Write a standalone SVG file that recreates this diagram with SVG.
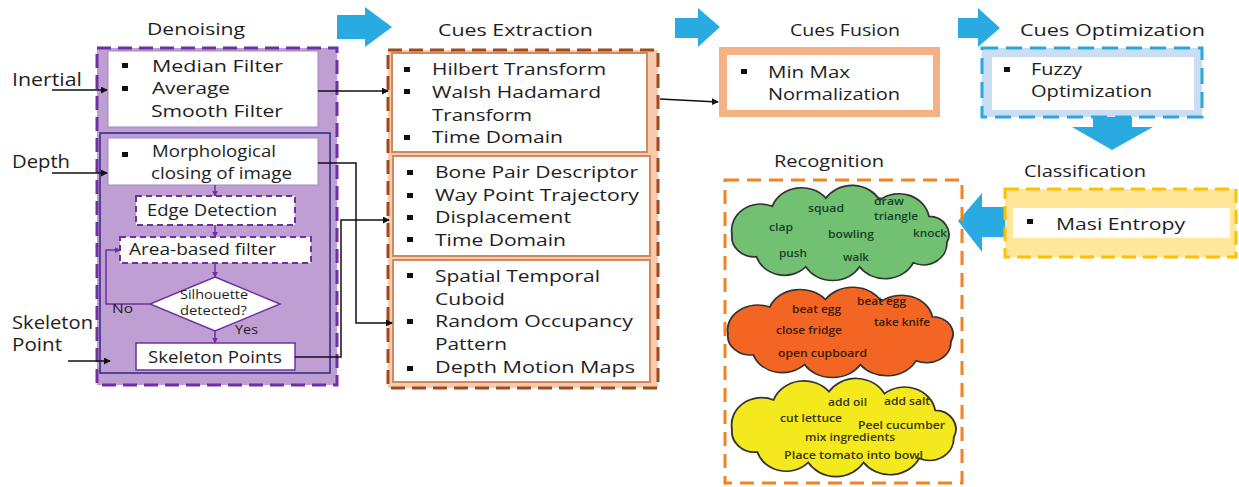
<svg xmlns="http://www.w3.org/2000/svg" xmlns:xlink="http://www.w3.org/1999/xlink" width="1239" height="487" viewBox="0 0 1239 487">
<style>
text{font-family:"Open Sans","DejaVu Sans",sans-serif;fill:#1e1e1e}
.t{font-size:17px}
.m{font-size:16px}
.sm{font-size:12px}
.c{font-size:11px;font-weight:600}
.cg{fill:#17402a}
.co{fill:#3a1c05}
.cy{fill:#3a3505}
.blk{stroke:#111;stroke-width:1.5;fill:none}
.pur{stroke:#7030a0;stroke-width:1.5;fill:none}
.wb{fill:#fff}
.blue{fill:#29abe2}
.bul{fill:#111}
.cloud{stroke:#333;stroke-width:1.6;vector-effect:non-scaling-stroke}
</style>
<defs>
<marker id="ab" viewBox="0 0 8 8" refX="7" refY="4" markerWidth="7" markerHeight="7" markerUnits="userSpaceOnUse" orient="auto"><path d="M0,0 L8,4 L0,8 z" fill="#111"/></marker>
<marker id="ap" viewBox="0 0 8 8" refX="7" refY="4" markerWidth="6" markerHeight="6" markerUnits="userSpaceOnUse" orient="auto"><path d="M0,0 L8,4 L0,8 z" fill="#7030a0"/></marker>
<rect id="b" width="6" height="5"/>
<path id="cl" d="M14,50 A26,26 0 0 1 50,22 A28,28 0 0 1 98,14 A28,28 0 0 1 146,16 A27,27 0 0 1 190,32 A18,18 0 0 1 206,58 A21,21 0 0 1 176,78 A28,28 0 0 1 128,82 A28,28 0 0 1 80,82 A26,26 0 0 1 36,72 A20,20 0 0 1 14,50 Z"/>
</defs>

<!-- blue block arrows -->
<g id="bigArrows">
<polygon class="blue" points="337,15 365,15 365,7 392,27 365,47 365,39 337,39"/>
<polygon class="blue" points="675,18 698,18 698,8 720,27 698,47 698,38 675,38"/>
<polygon class="blue" points="958,18 978,18 978,8 1000,28 978,47 978,38 958,38"/>
<polygon class="blue" points="1093,117 1132,117 1132,127 1153,127 1112,150 1072,127 1093,127"/>
<polygon class="blue" points="1005,207 982,207 982,193 958,221 982,252 982,237 1005,237"/>
</g>

<!-- input labels -->
<g id="inputs">
<text class="t" x="12" y="86" textLength="70" lengthAdjust="spacingAndGlyphs" style="font-size:18px">Inertial</text>
<text class="t" x="12" y="168" textLength="58" lengthAdjust="spacingAndGlyphs" style="font-size:18px">Depth</text>
<text class="t" x="12" y="329" textLength="81" lengthAdjust="spacingAndGlyphs" style="font-size:18px">Skeleton</text>
<text class="t" x="12" y="351" textLength="50" lengthAdjust="spacingAndGlyphs" style="font-size:18px">Point</text>
</g>

<!-- Denoising -->
<g id="denoising">
<text class="t" x="147" y="35" textLength="98" lengthAdjust="spacingAndGlyphs">Denoising</text>
<rect x="97" y="48" width="240" height="337" fill="#bf9fd3" stroke="#7030a0" stroke-width="3" stroke-dasharray="14,7"/>
<rect x="108" y="51" width="210" height="76" class="wb" stroke="#a585c2" stroke-width="1"/>
<use href="#b" xlink:href="#b" class="bul" x="122" y="63"/>
<use href="#b" xlink:href="#b" class="bul" x="122" y="86"/>
<text class="t" x="152" y="72" textLength="131" lengthAdjust="spacingAndGlyphs">Median Filter</text>
<text class="t" x="152" y="94" textLength="78" lengthAdjust="spacingAndGlyphs">Average</text>
<text class="t" x="151" y="117" textLength="132" lengthAdjust="spacingAndGlyphs">Smooth Filter</text>
<rect x="100" y="133" width="230" height="240" fill="none" stroke="#2b2b80" stroke-width="1.5"/>
</g>
<g id="morph">
<rect x="108" y="138" width="210" height="47" class="wb" stroke="#a585c2" stroke-width="1"/>
<use href="#b" xlink:href="#b" class="bul" x="122" y="152"/>
<text class="m" x="152" y="157" textLength="124" lengthAdjust="spacingAndGlyphs">Morphological</text>
<text class="m" x="151" y="179" textLength="141" lengthAdjust="spacingAndGlyphs">closing of image</text>
</g>
<g id="edge">
<rect x="136" y="196" width="159" height="29" class="wb" stroke="#7030a0" stroke-width="2" stroke-dasharray="6,4"/>
<text class="m" x="147" y="216" textLength="130" lengthAdjust="spacingAndGlyphs">Edge Detection</text>
</g>
<g id="area">
<rect x="120" y="237" width="191" height="26" class="wb" stroke="#7030a0" stroke-width="2" stroke-dasharray="6,4"/>
<text class="m" x="129" y="255" textLength="147" lengthAdjust="spacingAndGlyphs">Area-based filter</text>
</g>
<g id="silhouette">
<polygon points="215,277 280,304 215,331 150,304" class="wb" stroke="#7030a0" stroke-width="1.5"/>
<text class="sm" x="180" y="299" textLength="68" lengthAdjust="spacingAndGlyphs">Silhouette</text>
<text class="sm" x="180" y="315" textLength="67" lengthAdjust="spacingAndGlyphs">detected?</text>
</g>
<g id="skeleton">
<rect x="136" y="343" width="159" height="27" class="wb" stroke="#7030a0" stroke-width="1.5"/>
<text class="m" x="148" y="363" textLength="134" lengthAdjust="spacingAndGlyphs">Skeleton Points</text>
</g>

<!-- Cues Extraction -->
<g id="cuesExtraction">
<text class="t" x="438" y="36" textLength="155" lengthAdjust="spacingAndGlyphs">Cues Extraction</text>
<rect x="388" y="50" width="270" height="338" fill="#f8cbad" stroke="#9e4a1e" stroke-width="3" stroke-dasharray="14,7"/>
</g>
<g id="inertialCues">
<rect x="392" y="53" width="255" height="99" class="wb" stroke="#d08860" stroke-width="2"/>
<use href="#b" xlink:href="#b" class="bul" x="404" y="67"/>
<use href="#b" xlink:href="#b" class="bul" x="404" y="89"/>
<use href="#b" xlink:href="#b" class="bul" x="404" y="135"/>
<text class="t" x="432" y="75" textLength="174" lengthAdjust="spacingAndGlyphs">Hilbert Transform</text>
<text class="t" x="432" y="98" textLength="169" lengthAdjust="spacingAndGlyphs">Walsh Hadamard</text>
<text class="t" x="432" y="121" textLength="100" lengthAdjust="spacingAndGlyphs">Transform</text>
<text class="t" x="432" y="143" textLength="131" lengthAdjust="spacingAndGlyphs">Time Domain</text>
</g>
<g id="skeletonCues">
<rect x="393" y="156" width="257" height="100" class="wb" stroke="#d08860" stroke-width="2"/>
<use href="#b" xlink:href="#b" class="bul" x="407" y="170"/>
<use href="#b" xlink:href="#b" class="bul" x="407" y="193"/>
<use href="#b" xlink:href="#b" class="bul" x="407" y="215"/>
<use href="#b" xlink:href="#b" class="bul" x="407" y="237"/>
<text class="t" x="435" y="178" textLength="203" lengthAdjust="spacingAndGlyphs">Bone Pair Descriptor</text>
<text class="t" x="435" y="201" textLength="204" lengthAdjust="spacingAndGlyphs">Way Point Trajectory</text>
<text class="t" x="435" y="223" textLength="136" lengthAdjust="spacingAndGlyphs">Displacement</text>
<text class="t" x="435" y="246" textLength="131" lengthAdjust="spacingAndGlyphs">Time Domain</text>
</g>
<g id="depthCues">
<rect x="393" y="260" width="257" height="122" class="wb" stroke="#d08860" stroke-width="2"/>
<use href="#b" xlink:href="#b" class="bul" x="407" y="273"/>
<use href="#b" xlink:href="#b" class="bul" x="407" y="319"/>
<use href="#b" xlink:href="#b" class="bul" x="407" y="366"/>
<text class="t" x="435" y="282" textLength="165" lengthAdjust="spacingAndGlyphs">Spatial Temporal</text>
<text class="t" x="435" y="305" textLength="70" lengthAdjust="spacingAndGlyphs">Cuboid</text>
<text class="t" x="435" y="327" textLength="198" lengthAdjust="spacingAndGlyphs">Random Occupancy</text>
<text class="t" x="435" y="350" textLength="72" lengthAdjust="spacingAndGlyphs">Pattern</text>
<text class="t" x="435" y="373" textLength="200" lengthAdjust="spacingAndGlyphs">Depth Motion Maps</text>
</g>

<!-- Cues Fusion -->
<g id="cuesFusion">
<text class="t" x="790" y="36" textLength="110" lengthAdjust="spacingAndGlyphs">Cues Fusion</text>
<rect x="719" y="47" width="221" height="70" fill="#f4b183"/>
<rect x="727" y="55" width="206" height="55" class="wb"/>
<use href="#b" xlink:href="#b" class="bul" x="741" y="69"/>
<text class="t" x="768" y="78" textLength="82" lengthAdjust="spacingAndGlyphs">Min Max</text>
<text class="t" x="768" y="100" textLength="132" lengthAdjust="spacingAndGlyphs">Normalization</text>
</g>

<!-- Cues Optimization -->
<g id="cuesOptimization">
<text class="t" x="1020" y="36" textLength="185" lengthAdjust="spacingAndGlyphs">Cues Optimization</text>
<rect x="982" y="48" width="220" height="69" fill="#c9def2" stroke="#2aa6e2" stroke-width="3" stroke-dasharray="16,8"/>
<rect x="992" y="57" width="202" height="53" class="wb"/>
<use href="#b" xlink:href="#b" class="bul" x="1004" y="67"/>
<text class="t" x="1031" y="75" textLength="51" lengthAdjust="spacingAndGlyphs">Fuzzy</text>
<text class="t" x="1031" y="97" textLength="121" lengthAdjust="spacingAndGlyphs">Optimization</text>
</g>

<!-- Classification -->
<g id="classification">
<text class="t" x="1024" y="177" textLength="122" lengthAdjust="spacingAndGlyphs">Classification</text>
<rect x="1005" y="189" width="231" height="68" fill="#ffe699" stroke="#ffc000" stroke-width="3" stroke-dasharray="14,7"/>
<rect x="1013" y="208" width="217" height="30" class="wb"/>
<use href="#b" xlink:href="#b" class="bul" x="1027" y="219"/>
<text class="t" x="1056" y="230" textLength="129" lengthAdjust="spacingAndGlyphs">Masi Entropy</text>
</g>

<!-- Recognition -->
<g id="recognition">
<text class="t" x="774" y="167" textLength="110" lengthAdjust="spacingAndGlyphs">Recognition</text>
<rect x="725" y="180" width="237" height="303" fill="none" stroke="#f58220" stroke-width="3" stroke-dasharray="14,8"/>
</g>
<g id="cloudInertial">
<use href="#cl" xlink:href="#cl" class="cloud" fill="#72c072" transform="translate(716.3,184) scale(1.119,1.01)"/>
<text class="c cg" x="808" y="212" textLength="36" lengthAdjust="spacingAndGlyphs">squad</text>
<text class="c cg" x="874" y="205" textLength="30" lengthAdjust="spacingAndGlyphs">draw</text>
<text class="c cg" x="874" y="220" textLength="44" lengthAdjust="spacingAndGlyphs">triangle</text>
<text class="c cg" x="769" y="231" textLength="24" lengthAdjust="spacingAndGlyphs">clap</text>
<text class="c cg" x="828" y="238" textLength="46" lengthAdjust="spacingAndGlyphs">bowling</text>
<text class="c cg" x="913" y="237" textLength="34" lengthAdjust="spacingAndGlyphs">knock</text>
<text class="c cg" x="779" y="257" textLength="28" lengthAdjust="spacingAndGlyphs">push</text>
<text class="c cg" x="843" y="261" textLength="26" lengthAdjust="spacingAndGlyphs">walk</text>
</g>
<g id="cloudKitchen">
<use href="#cl" xlink:href="#cl" class="cloud" fill="#f26522" transform="translate(711.7,286) scale(1.161,0.958)"/>
<text class="c co" x="792" y="313" textLength="49" lengthAdjust="spacingAndGlyphs">beat egg</text>
<text class="c co" x="857" y="305" textLength="49" lengthAdjust="spacingAndGlyphs">beat egg</text>
<text class="c co" x="776" y="334" textLength="66" lengthAdjust="spacingAndGlyphs">close fridge</text>
<text class="c co" x="874" y="326" textLength="56" lengthAdjust="spacingAndGlyphs">take knife</text>
<text class="c co" x="778" y="357" textLength="89" lengthAdjust="spacingAndGlyphs">open cupboard</text>
</g>
<g id="cloudSalad">
<use href="#cl" xlink:href="#cl" class="cloud" fill="#f3e91c" transform="translate(715.8,377) scale(1.155,1.042)"/>
<text class="c cy" x="828" y="406" textLength="39" lengthAdjust="spacingAndGlyphs">add oil</text>
<text class="c cy" x="884" y="405" textLength="46" lengthAdjust="spacingAndGlyphs">add salt</text>
<text class="c cy" x="780" y="422" textLength="62" lengthAdjust="spacingAndGlyphs">cut lettuce</text>
<text class="c cy" x="858" y="429" textLength="87" lengthAdjust="spacingAndGlyphs">Peel cucumber</text>
<text class="c cy" x="805" y="441" textLength="90" lengthAdjust="spacingAndGlyphs">mix ingredients</text>
<text class="c cy" x="784" y="459" textLength="139" lengthAdjust="spacingAndGlyphs">Place tomato into bowl</text>
</g>

<!-- connectors -->
<g id="connectors">
<line class="blk" x1="52" y1="90" x2="107" y2="90" marker-end="url(#ab)"/>
<line class="blk" x1="52" y1="173" x2="107" y2="173" marker-end="url(#ab)"/>
<line class="blk" x1="68" y1="361" x2="110" y2="361" marker-end="url(#ab)"/>
<line class="blk" x1="318" y1="91" x2="388" y2="91" marker-end="url(#ab)"/>
<polyline class="blk" points="318,163 356,163 356,323 392,323" marker-end="url(#ab)"/>
<polyline class="blk" points="295,357 341,357 341,220 389,220" marker-end="url(#ab)"/>
<line class="blk" x1="660" y1="99" x2="718" y2="102" marker-end="url(#ab)"/>
<line class="pur" x1="215" y1="185" x2="215" y2="196" marker-end="url(#ap)"/>
<line class="pur" x1="215" y1="225" x2="215" y2="237" marker-end="url(#ap)"/>
<line class="pur" x1="215" y1="263" x2="215" y2="277" marker-end="url(#ap)"/>
<line class="pur" x1="215" y1="331" x2="215" y2="343" marker-end="url(#ap)"/>
<polyline class="pur" points="150,304 106,304 106,250 120,250" marker-end="url(#ap)"/>
<text class="sm" x="112" y="313" textLength="21" lengthAdjust="spacingAndGlyphs" style="font-size:13px">No</text>
<text class="sm" x="235" y="334" textLength="23" lengthAdjust="spacingAndGlyphs" style="font-size:13px">Yes</text>
</g>
</svg>
